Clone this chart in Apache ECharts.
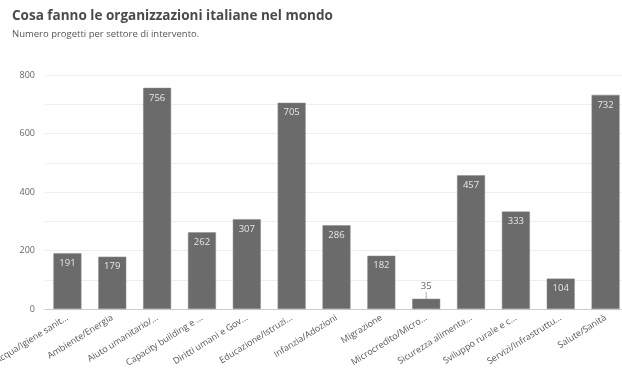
<!DOCTYPE html>
<html>
<head>
<meta charset="utf-8">
<script src="https://cdn.jsdelivr.net/npm/echarts@6/dist/echarts.min.js"></script>
<style>
  html, body { margin: 0; padding: 0; background: #fff; }
  #chart { width: 622px; height: 372px; }
</style>
</head>
<body>
<div id="chart"></div>
<script>
// Settori di intervento (asse X)
const settori = [
  'Acqua/Igiene sanitaria',
  'Ambiente/Energia',
  'Aiuto umanitario/Emergenza',
  'Capacity building e formazione',
  'Diritti umani e Governance',
  'Educazione/Istruzione',
  'Infanzia/Adozioni',
  'Migrazione',
  'Microcredito/Microfinanza',
  'Sicurezza alimentare/Nutrizione',
  'Sviluppo rurale e comunitario',
  'Servizi/Infrastrutture sociali',
  'Salute/Sanità'
];

// Numero di progetti per settore
const progetti = [191, 179, 756, 262, 307, 705, 286, 182, 35, 457, 333, 104, 732];

// Etichette dell'asse Y
const yTickLabels = [0, 200, 400, 600, 800];

const chart = echarts.init(document.getElementById('chart'));

chart.setOption({
  animation: false,
  title: [
    {
      text: 'Cosa fanno le organizzazioni italiane nel mondo',
      left: 7, top: 4,
      textStyle: { fontFamily: 'Open Sans', fontSize: 13.5, fontWeight: 'bold', color: '#4a4a4a' }
    },
    {
      text: 'Numero progetti per settore di intervento.',
      left: 7, top: 24,
      textStyle: { fontFamily: 'Open Sans', fontSize: 9.5, fontWeight: 'normal', color: '#555' }
    }
  ],
  grid: { left: 45, right: -6, top: 75, bottom: 63, outerBoundsMode: 'none', containLabel: false },
  xAxis: {
    type: 'category',
    data: settori,
    axisLine: { lineStyle: { color: '#ccc' } },
    axisTick: { show: false },
    axisLabel: {
      rotate: 32,
      interval: 0,
      margin: 8,
      fontFamily: 'Open Sans',
      fontSize: 9,
      color: '#555',
      width: 90,
      overflow: 'truncate',
      ellipsis: '...'
    }
  },
  yAxis: {
    type: 'value',
    min: 0,
    max: 800,
    interval: 100,
    axisLine: { show: false },
    axisTick: { show: false },
    splitLine: { lineStyle: { color: '#eeeeee' } },
    axisLabel: {
      margin: 10,
      fontFamily: 'Open Sans',
      fontSize: 9,
      color: '#666',
      formatter: v => (yTickLabels.indexOf(v) >= 0 ? String(v) : '')
    }
  },
  series: [{
    type: 'bar',
    data: progetti.map(v => v < 60 ? { value: v, label: { color: '#666' } } : v),
    barWidth: 28,
    itemStyle: { color: '#6b6b6b', borderColor: '#8a8a8a', borderWidth: 0.5 },
    label: {
      show: true,
      position: 'insideTop',
      distance: 5,
      fontFamily: 'Open Sans',
      fontSize: 9.5,
      color: '#e8e8e8'
    },
    labelLine: { show: true, lineStyle: { color: '#999', width: 0.8 } },
    labelLayout: function (params) {
      // barre troppo basse: etichetta spostata sopra, con linea di collegamento
      if (params.rect.height < 20) {
        return { y: params.rect.y - 7, verticalAlign: 'bottom', align: 'center', x: params.rect.x + params.rect.width / 2 };
      }
      return {};
    }
  }]
});
</script>
</body>
</html>
